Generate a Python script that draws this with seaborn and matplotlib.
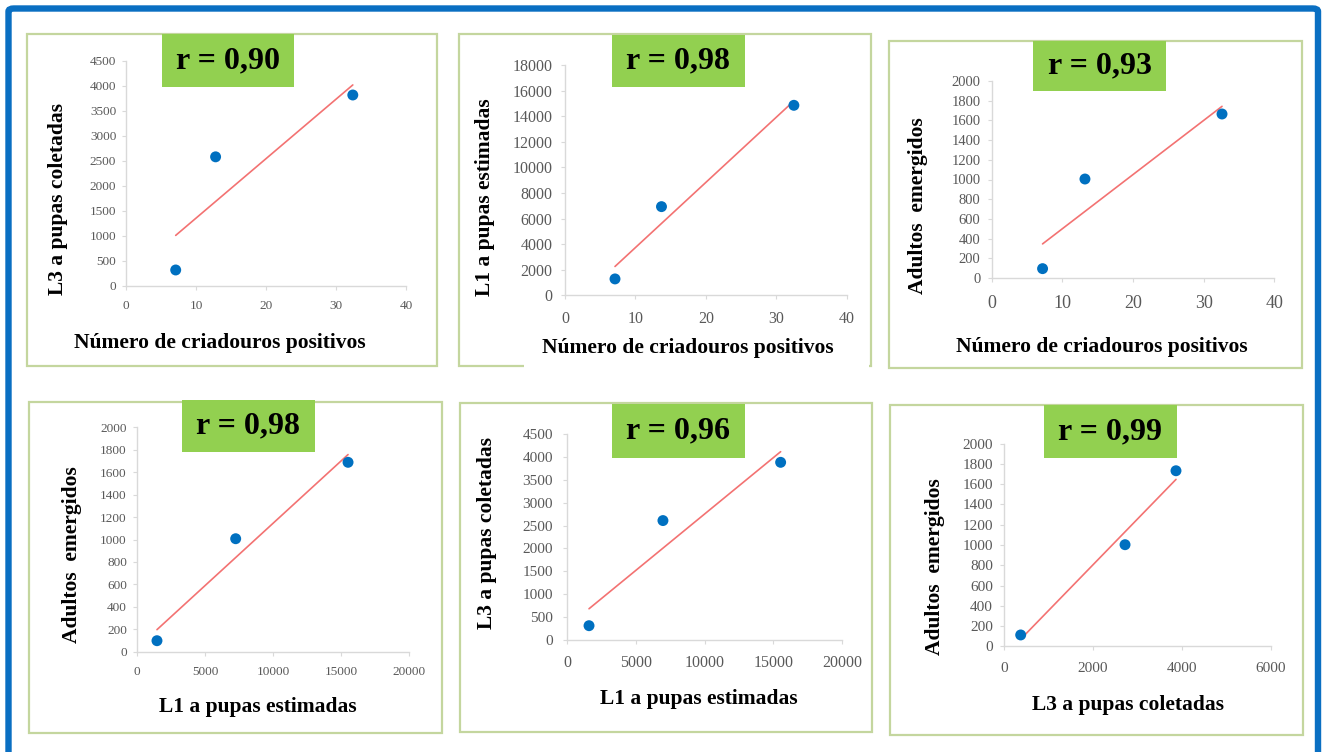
import matplotlib
matplotlib.use("Agg")
import matplotlib.pyplot as plt
from matplotlib.patches import Rectangle, FancyBboxPatch
import seaborn as sns
import pandas as pd

# ---- data (one small array per axis of every panel) ----
criadouros_a = [7.1, 12.8, 32.4]
l3_a = [320, 2580, 3815]

criadouros_b = [7.1, 13.7, 32.5]
l1_b = [1280, 6930, 14850]

criadouros_c = [7.2, 13.2, 32.6]
adultos_c = [95, 1005, 1665]

l1_d = [1450, 7250, 15530]
adultos_d = [98, 1007, 1688]

l1_e = [1600, 6970, 15520]
l3_e = [307, 2610, 3886]

l3_f = [375, 2720, 3865]
adultos_f = [112, 1003, 1733]

r_labels = ["r = 0,90", "r = 0,98", "r = 0,93", "r = 0,98", "r = 0,96", "r = 0,99"]

lab_criad = "Número de criadouros positivos"
lab_l1 = "L1 a pupas estimadas"
lab_l3 = "L3 a pupas coletadas"
lab_ad = "Adultos  emergidos"

x_labels = [lab_criad, lab_criad, lab_criad, lab_l1, lab_l1, lab_l3]
y_labels = [lab_l3, lab_l1, lab_ad, lab_ad, lab_l3, lab_ad]

x_limits = [(0, 40), (0, 40), (0, 40), (0, 20000), (0, 20000), (0, 6000)]
x_steps = [10, 10, 10, 5000, 5000, 2000]
y_limits = [(0, 4500), (0, 18000), (0, 2000), (0, 2000), (0, 4500), (0, 2000)]
y_steps = [500, 2000, 200, 200, 500, 200]

panel_x = [criadouros_a, criadouros_b, criadouros_c, l1_d, l1_e, l3_f]
panel_y = [l3_a, l1_b, adultos_c, adultos_d, l3_e, adultos_f]

# ---- layout (pixel geometry of a 1325 x 752 canvas) ----
W, H = 1325, 752


def fx(x):
    return x / W


def fy(y):
    return 1 - y / H


# plot areas: left, right, bottom, top (pixels, y measured from top)
axes_px = [
    (126, 406, 286, 60.7),
    (565, 846.7, 295.3, 65),
    (991.7, 1274.3, 278, 81),
    (137.3, 408.7, 651.7, 427.3),
    (567, 842.3, 639.7, 434.3),
    (1004, 1271, 646.3, 443.7),
]
# panel frames: left, top, right, bottom
frames_px = [
    (27, 34, 437, 366),
    (459, 34, 871, 366),
    (889, 41, 1302, 368),
    (29, 402, 442, 733),
    (460, 403, 872, 732),
    (890, 405, 1303, 735),
]
# green badges: left, top, right, bottom
badges_px = [
    (162, 34, 294, 87),
    (612, 35, 745, 87),
    (1033, 41, 1166, 91),
    (182, 400, 315, 452),
    (612, 404, 745, 458),
    (1044, 405, 1177, 458),
]
xlabel_px = [(220, 343), (688, 348), (1102, 347), (258, 707), (699, 699), (1128, 705)]
ylabel_px = [(58, 199), (485, 197), (918, 206), (72, 555), (487, 533), (935, 567)]

xtick_size = [9.5, 11.5, 13, 9.5, 11.5, 11]
ytick_size = [9.5, 11.5, 10.5, 9.5, 11, 11]
xtick_pad = [7, 8, 9, 7, 8, 8]
ytick_pad = [4, 6, 5, 4.5, 7, 5]

sns.set_theme(style="white")
plt.rcParams["font.family"] = ["Liberation Serif", "DejaVu Serif"]

fig = plt.figure(figsize=(W / 100, H / 100), dpi=100)
fig.patch.set_facecolor("white")

# outer blue frame (its lower edge runs past the canvas)
fig.add_artist(FancyBboxPatch((fx(8.5), fy(775)), fx(1318 - 8.5), (775 - 8.5) / H,
                              boxstyle="round,pad=0,rounding_size=0.004",
                              transform=fig.transFigure, fill=False,
                              edgecolor="#0A6FC2", linewidth=4.6, zorder=0))

for i in range(6):
    l, t, r, b = frames_px[i]
    fig.add_artist(Rectangle((fx(l), fy(b)), (r - l) / W, (b - t) / H,
                             transform=fig.transFigure, fill=False,
                             edgecolor="#C4D69E", linewidth=1.6, zorder=0))

    al, ar, ab, at = axes_px[i]
    ax = fig.add_axes([fx(al), fy(ab), (ar - al) / W, (ab - at) / H])
    ax.set_facecolor("none")

    df = pd.DataFrame({"x": panel_x[i], "y": panel_y[i]})
    sns.regplot(data=df, x="x", y="y", ax=ax, ci=None, truncate=True,
                scatter_kws=dict(s=62, color="#0070C0", edgecolors="none", zorder=3, alpha=1),
                line_kws=dict(color="#F37272", linewidth=1.2, zorder=2))

    x0, x1 = x_limits[i]
    y0, y1 = y_limits[i]
    ax.set_xlim(x0, x1)
    ax.set_ylim(y0, y1)
    ax.set_xticks(range(x0, x1 + 1, x_steps[i]))
    ax.set_yticks(range(y0, y1 + 1, y_steps[i]))
    ax.set_xlabel("")
    ax.set_ylabel("")

    for side in ("top", "right"):
        ax.spines[side].set_visible(False)
    for side in ("left", "bottom"):
        ax.spines[side].set_color("#D9D9D9")
        ax.spines[side].set_linewidth(1.0)

    ax.tick_params(axis="both", direction="out", length=3, width=0.8,
                   color="#D9D9D9", labelcolor="#595959")
    ax.tick_params(axis="x", labelsize=xtick_size[i], pad=xtick_pad[i], bottom=True)
    ax.tick_params(axis="y", labelsize=ytick_size[i], pad=ytick_pad[i], left=True)

    # axis titles
    lx, ly = xlabel_px[i]
    fig.text(fx(lx), fy(ly), x_labels[i], ha="center", va="center",
             fontsize=15.5, fontweight="bold", color="black", zorder=4)
    yx, yy = ylabel_px[i]
    fig.text(fx(yx), fy(yy), y_labels[i], ha="center", va="center", rotation=90,
             fontsize=15.5, fontweight="bold", color="black", zorder=4)

    # correlation badge
    gl, gt, gr, gb = badges_px[i]
    fig.add_artist(Rectangle((fx(gl), fy(gb)), (gr - gl) / W, (gb - gt) / H,
                             transform=fig.transFigure, facecolor="#92D050",
                             edgecolor="none", zorder=5))
    fig.text(fx((gl + gr) / 2), fy((gt + gb) / 2), r_labels[i], ha="center", va="center",
             fontsize=23, fontweight="bold", color="black", zorder=6)

# white strip behind the second panel's x title, over its frame
fig.add_artist(Rectangle((fx(524), fy(371)), (869 - 524) / W, (371 - 330) / H,
                         transform=fig.transFigure, facecolor="white",
                         edgecolor="none", zorder=3))

fig.savefig("out.png", dpi=100)
